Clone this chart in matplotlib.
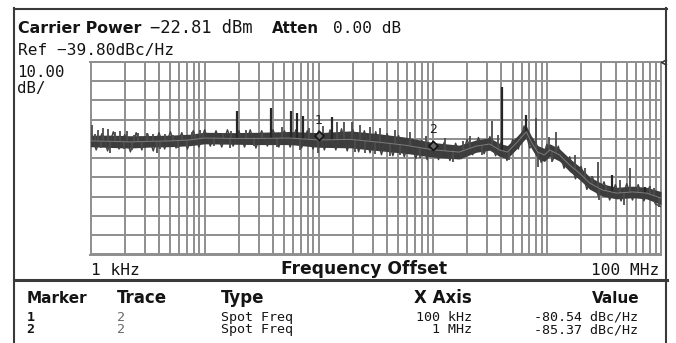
import numpy as np
import matplotlib
matplotlib.use("Agg")
import matplotlib.pyplot as plt
from matplotlib.path import Path
from matplotlib.lines import Line2D
from matplotlib.ticker import LogLocator, FixedLocator

# ---------------- data ----------------
carrier_power_text = "\u221222.81 dBm"
atten_text = "0.00 dB"
ref_level_dbc = -39.80
scale_db_per_div = 10.0
n_divs = 10
start_freq_hz = 1e3
stop_freq_hz = 1e8
start_label = "1 kHz"
stop_label = "100 MHz"

# smoothed trace (centre of noise band)
trace_freq_hz = [1e3, 1.5e3, 2.2e3, 3.3e3, 5e3, 7.4e3, 1e4, 1.7e4, 3e4, 5.6e4,
                 1e5, 1.9e5, 3.4e5, 5.7e5, 1e6, 1.7e6, 2.4e6, 3.15e6, 3.85e6, 4.5e6,
                 5.5e6, 6.6e6, 7.3e6, 8.3e6, 9.5e6, 1.06e7, 1.29e7, 1.58e7, 1.93e7, 2.37e7,
                 3.07e7, 4.08e7, 5.63e7, 7.46e7, 1e8]
trace_level_dbc = [-80.8, -81.0, -81.3, -81.0, -80.8, -80.3, -79.3, -79.5, -79.5, -79.3,
                   -80.3, -80.0, -81.5, -83.0, -85.4, -86.6, -83.5, -82.4, -85.5, -86.6,
                   -81.4, -76.0, -81.4, -86.6, -88.1, -85.5, -88.1, -93.3, -97.5, -102.7,
                   -106.3, -107.9, -107.3, -107.9, -110.5]
noise_spread_db = [3.0, 3.2, 3.2, 3.0, 3.0, 3.0, 3.0, 3.0, 3.2, 3.4,
                   3.8, 4.4, 4.4, 4.2, 3.8, 3.6, 3.2, 3.2, 3.4, 3.4,
                   3.2, 3.0, 3.2, 3.4, 3.4, 3.2, 3.2, 3.4, 3.4, 3.2,
                   3.2, 3.0, 3.0, 3.0, 3.4]

# raw (noisy) trace, one reading every 0.05 decade from 1 kHz to 100 MHz
raw_trace_dbc = [-76.5, -85.5, -77.0, -86.0, -76.0, -85.0, -77.5, -86.5, -76.5, -85.5,
                 -77.0, -86.0, -76.5, -85.0, -76.0, -84.5, -76.5, -85.0, -75.5, -84.0,
                 -75.0, -83.5, -75.5, -84.0, -75.0, -83.5, -75.5, -84.0, -75.0, -84.5,
                 -75.5, -83.5, -75.0, -84.0, -75.5, -84.0, -75.0, -84.5, -75.5, -85.0,
                 -75.5, -85.5, -75.0, -85.5, -74.5, -86.0, -75.0, -86.5, -75.5, -87.0,
                 -76.0, -88.0, -77.0, -88.5, -78.0, -89.0, -79.5, -90.0, -80.5, -90.5,
                 -81.0, -90.5, -81.5, -91.0, -82.0, -90.0, -80.0, -88.0, -79.0, -87.5,
                 -78.5, -88.5, -81.5, -91.0, -80.0, -85.0, -73.0, -84.5, -81.0, -92.0,
                 -82.5, -91.0, -83.5, -95.0, -89.0, -100.5, -94.0, -106.0, -99.5, -109.5,
                 -102.0, -111.5, -103.5, -112.0, -103.0, -111.5, -103.5, -112.0, -104.5, -113.5,
                 -115.0]

# individual noise excursions (peaks and dips)
hair_freq_hz = [1.04e3, 1.1e3, 1.17e3, 1.23e3, 1.29e3, 1.41e3, 1.48e3, 1.64e3, 1.81e3, 1.95e3,
                2.07e3, 2.29e3, 2.4e3, 2.62e3, 2.85e3, 3.11e3, 3.5e3, 3.8e3, 4.1e3, 4.49e3,
                5.3e3, 5.9e3, 6.29e3, 7.0e3, 7.69e3, 8.3e3, 9.1e3, 9.67e3, 1.2e4, 1.45e4,
                1.66e4, 1.72e4, 2.3e4, 2.7e4, 3.18e4, 4.3e4, 4.75e4, 6.8e4, 8.2e4, 9.8e4,
                1.09e5, 1.44e5, 1.66e5, 1.95e5, 2.1e5, 2.29e5, 2.55e5, 2.8e5, 3.1e5, 3.43e5,
                4.18e5, 4.64e5, 5.2e5, 6.27e5, 7.65e5, 8.8e5, 1.27e6, 1.5e6, 1.85e6, 2.1e6,
                2.7e6, 3.28e6, 3.7e6, 4.7e6, 5.9e6, 7.96e6, 8.28e6, 1.035e7, 1.1e7, 1.19e7,
                1.45e7, 1.75e7, 2.14e7, 2.5e7, 2.78e7, 2.85e7, 3.3e7, 4.33e7, 4.7e7, 5.3e7,
                6.3e7, 8.0e7, 8.77e7, 9.7e7]
hair_level_dbc = [-72.5, -77.0, -75.1, -84.5, -74.1, -74.6, -87.1, -76.0, -75.5, -85.0,
                  -75.5, -85.5, -77.5, -76.7, -85.0, -76.7, -77.0, -87.1, -85.0, -77.2,
                  -77.5, -84.5, -77.7, -84.0, -76.0, -77.0, -75.1, -76.7, -83.5, -76.5,
                  -84.5, -75.5, -75.1, -83.5, -76.0, -84.0, -73.4, -85.5, -74.1, -87.1,
                  -73.0, -71.0, -71.0, -71.0, -86.5, -72.5, -87.0, -73.6, -87.5, -74.1,
                  -88.6, -75.1, -88.0, -76.2, -89.7, -78.0, -79.3, -91.7, -81.0, -78.2,
                  -88.0, -70.3, -77.7, -90.7, -78.5, -69.0, -94.2, -78.6, -91.7, -76.0,
                  -90.5, -88.1, -94.9, -99.0, -91.6, -111.5, -103.5, -101.1, -114.1, -94.9,
                  -104.0, -104.0, -105.3, -115.1]

# discrete spurs
spur_freq_hz = [1.92e4, 3.81e4, 5.7e4, 6.43e4, 7.26e4, 1.3e5, 4.01e6, 6.5e6, 3.69e7, 7.18e7]
spur_level_dbc = [-65.3, -63.7, -65.3, -66.3, -67.9, -68.4, -52.9, -67.3, -98.5, -104.6]

# marker table
marker_ids = ["1", "2"]
marker_trace = ["2", "2"]
marker_type = ["Spot Freq", "Spot Freq"]
marker_freq_hz = [1e5, 1e6]
marker_x_label = ["100 kHz", "1 MHz"]
marker_value_dbc = [-80.54, -85.37]

# ---------------- figure ----------------
W, H = 676, 343
fig = plt.figure(figsize=(W / 100, H / 100), dpi=100)
fig.patch.set_facecolor("white")


def fx(px):
    return px / W


def fy(py):
    return 1 - py / H


GRID = "#8e8e8e"
FRAME = "#3a3a3a"
TXT = "#141414"

ax = fig.add_axes([fx(90.5), fy(254.5), (661 - 90.5) / W, (254.5 - 62) / H])
ax.set_facecolor("white")
ax.set_xscale("log")
ax.set_xlim(start_freq_hz, stop_freq_hz)
bottom_level = ref_level_dbc - n_divs * scale_db_per_div
ax.set_ylim(bottom_level, ref_level_dbc)
ax.xaxis.set_major_locator(LogLocator(base=10))
ax.xaxis.set_minor_locator(LogLocator(base=10, subs=np.arange(2, 10)))
ax.yaxis.set_major_locator(FixedLocator(np.arange(n_divs + 1) * scale_db_per_div + bottom_level))
ax.grid(which="both", axis="x", color=GRID, lw=1.4)
ax.grid(which="major", axis="y", color=GRID, lw=1.4)
ax.tick_params(which="both", length=0, labelbottom=False, labelleft=False)
for s in ax.spines.values():
    s.set_color(GRID)
    s.set_linewidth(1.4)
ax.set_axisbelow(True)

tf = np.asarray(trace_freq_hz)
tl = np.asarray(trace_level_dbc)
sp = np.asarray(noise_spread_db)
ltf = np.log10(tf)

ax.fill_between(tf, tl - sp, tl + sp, color="#3c3c3c", lw=0, zorder=3)

raw_freq = np.logspace(np.log10(start_freq_hz), np.log10(stop_freq_hz), len(raw_trace_dbc))
ax.plot(raw_freq, raw_trace_dbc, color="#404040", lw=1.0, zorder=3.2)

hf = np.asarray(hair_freq_hz)
hb = np.interp(np.log10(hf), ltf, tl)
ax.vlines(hf, hb, hair_level_dbc, color="#4c4c4c", lw=1.3, zorder=3.5)

sf = np.asarray(spur_freq_hz)
sb = np.interp(np.log10(sf), ltf, tl)
ax.vlines(sf, sb, spur_level_dbc, color="#262626", lw=1.6, zorder=4)

ax.plot(tf, tl, color="#7c7c7c", lw=0.7, zorder=5)

# markers: diamond whose lower tip sits on the marker value
diamond = Path([(0, 0), (1, 1), (0, 2), (-1, 1), (0, 0)],
               [Path.MOVETO, Path.LINETO, Path.LINETO, Path.LINETO, Path.CLOSEPOLY])
ax.plot(marker_freq_hz, marker_value_dbc, ls="none", marker=diamond, ms=13,
        mfc="#6a6a6a", mec="#111111", mew=1.2, zorder=6)
for mid, mf, mv in zip(marker_ids, marker_freq_hz, marker_value_dbc):
    ax.annotate(mid, (mf, mv), xytext=(0, 14.5), textcoords="offset points",
                ha="center", va="center", fontsize=9, color="#222222",
                family="DejaVu Sans", zorder=7)

# reference-level chevron at the right edge of the graticule
chevron = Path([(2, 1), (0, 0), (2, -1)], [Path.MOVETO, Path.LINETO, Path.LINETO])
ax.plot([stop_freq_hz], [ref_level_dbc], ls="none", marker=chevron, ms=8,
        mfc="none", mec="#333333", mew=1.1, clip_on=False, zorder=7)

# ---------------- frame ----------------
def hline(y, x0, x1, lw=1.5, color=FRAME):
    fig.add_artist(Line2D([fx(x0), fx(x1)], [fy(y), fy(y)], color=color, lw=lw,
                          transform=fig.transFigure))


def vline(x, y0, y1, lw=1.5, color=FRAME):
    fig.add_artist(Line2D([fx(x), fx(x)], [fy(y0), fy(y1)], color=color, lw=lw,
                          transform=fig.transFigure))


hline(8.5, 13.5, 666.5)
vline(14, 8, 343)
vline(666, 8, 343)
hline(280, 13.5, 666.5, lw=2.2)

# ---------------- texts ----------------
BOLD = dict(family="DejaVu Sans", fontweight="bold", color=TXT, va="baseline")
MONO = dict(family="DejaVu Sans Mono", color=TXT, va="baseline")

fig.text(fx(18), fy(33.3), "Carrier Power", fontsize=11.4, **BOLD)
fig.text(fx(149.5), fy(33.3), carrier_power_text, fontsize=12.3, **MONO)
fig.text(fx(271.5), fy(33.3), "Atten", fontsize=10.8, **BOLD)
fig.text(fx(333), fy(33.3), atten_text, fontsize=11.6, **MONO)
ref_text = "Ref {:.2f}dBc/Hz".format(ref_level_dbc).replace("-", "\u2212")
fig.text(fx(17.5), fy(55), ref_text, fontsize=11.6, **MONO)
fig.text(fx(17.5), fy(76.7), "{:.2f}".format(scale_db_per_div), fontsize=11.3, **MONO)
fig.text(fx(17.5), fy(93.5), "dB/", fontsize=11.3, **MONO)

fig.text(fx(91), fy(275), start_label, fontsize=11.6, **MONO)
fig.text(fx(364.5), fy(273.5), "Frequency Offset", fontsize=12.3, ha="center", **BOLD)
fig.text(fx(659), fy(275), stop_label, fontsize=11.6, ha="right", **MONO)

fig.text(fx(26.7), fy(303.3), "Marker", fontsize=11, **BOLD)
fig.text(fx(117), fy(303.3), "Trace", fontsize=12, **BOLD)
fig.text(fx(220.5), fy(303.3), "Type", fontsize=12, **BOLD)
fig.text(fx(472), fy(303.3), "X Axis", fontsize=12, ha="right", **BOLD)
fig.text(fx(640), fy(303.3), "Value", fontsize=11, ha="right", **BOLD)

# table rows: one multi-line text per column
ROW = dict(family="DejaVu Sans Mono", va="top", fontsize=9.6, linespacing=0.93)
row_top = 311.0
fig.text(fx(26.7), fy(row_top), "\n".join(marker_ids), color=TXT, fontweight="bold", **ROW)
fig.text(fx(117.3), fy(row_top), "\n".join(marker_trace), color="#6a6a6a", **ROW)
fig.text(fx(220.7), fy(row_top), "\n".join(marker_type), color=TXT, **ROW)
fig.text(fx(472), fy(row_top), "\n".join(marker_x_label), color=TXT, ha="right",
         multialignment="right", **ROW)
fig.text(fx(638.5), fy(row_top), "\n".join("{:.2f} dBc/Hz".format(v) for v in marker_value_dbc),
         color=TXT, ha="right", multialignment="right", **ROW)

fig.savefig("out.png", dpi=100, facecolor="white")
